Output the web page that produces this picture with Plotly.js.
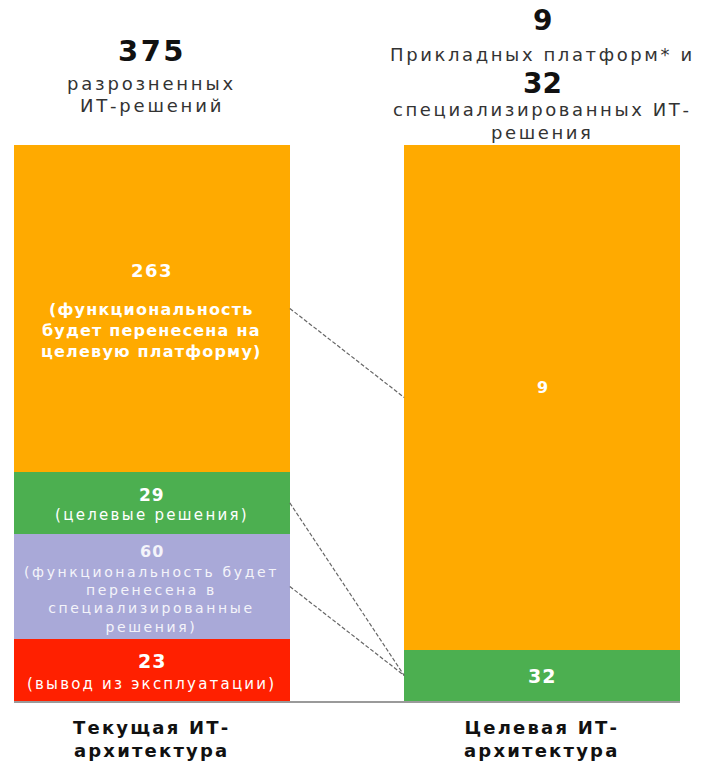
<!DOCTYPE html>
<html>
<head>
<meta charset="utf-8">
<script src="https://cdn.plot.ly/plotly-3.0.1.min.js"></script>
<style>html,body{margin:0;padding:0;background:#fff}#chart{width:708px;height:765px}</style>
</head>
<body>
<div id="chart"></div>
<script>
// ---- data ----
const categories = ['Текущая ИТ-<br>архитектура', 'Целевая ИТ-<br>архитектура'];
const leftLabels = ['23', '60', '29', '263'];
const leftNotes = [
  '(вывод из эксплуатации)',
  '(функциональность будет<br>перенесена в<br>специализированные<br>решения)',
  '(целевые решения)',
  '(функциональность<br>будет перенесена на<br>целевую платформу)'
];
const leftShares = [11.15, 18.9, 11.15, 58.8];   // visual share of bar height, %
const rightLabels = ['32', '9'];
const rightShares = [9.2, 90.8];
const leftHeader = ['375', 'разрозненных', 'ИТ-решений'];
const rightHeader = ['9', 'Прикладных платформ* и', '32', 'специализированных ИТ-', 'решения'];
// connectors: [left segment index, right segment index]
const links = [[3, 1], [2, 0], [1, 0]];

// ---- style ----
const leftColors = ['#FF2000', '#A9A9D8', '#4CAF50', '#FFAA00'];
const rightColors = ['#4CAF50', '#FFAA00'];
const BAR_W = 0.707;
const FONT = 'DejaVu Sans, Liberation Sans, Arial, sans-serif';
const ls = (t, px) => t.split('<br>').map(s => `<span style="letter-spacing:${px}px">${s}</span>`).join('<br>');

const leftNumStyle = [
  {size: 19, shift: 9, sp: 1}, {size: 16, shift: 35, sp: 1, color: '#F4F4FA'},
  {size: 17, shift: 8, sp: 1}, {size: 18, shift: 38, sp: 1.5}
];
const leftNoteStyle = [
  {size: 15, shift: -14, bold: false, sp: 2.2},
  {size: 14, shift: -13, bold: false, sp: 2.6, color: '#F4F4FA'},
  {size: 15, shift: -12, bold: false, sp: 2.3},
  {size: 16, shift: -22, bold: true, sp: 1.2}
];
const rightNumStyle = [{size: 19, shift: -1, sp: 1}, {size: 16, shift: 10, sp: 0}];

// ---- traces ----
const traces = [];
leftShares.forEach((h, i) => traces.push({
  type: 'bar', x: [0], y: [h], width: BAR_W,
  marker: {color: leftColors[i], line: {width: 0}}, hoverinfo: 'skip', showlegend: false
}));
rightShares.forEach((h, i) => traces.push({
  type: 'bar', x: [1], y: [h], width: BAR_W,
  marker: {color: rightColors[i], line: {width: 0}}, hoverinfo: 'skip', showlegend: false
}));

function mids(shares) {
  let c = 0;
  return shares.map(h => { const m = c + h / 2; c += h; return m; });
}
const leftMid = mids(leftShares);
const rightMid = mids(rightShares);

const ann = [];
leftLabels.forEach((t, i) => {
  const s = leftNumStyle[i];
  ann.push({x: 0, y: leftMid[i], xref: 'x', yref: 'y', text: '<b>' + ls(t, s.sp) + '</b>', showarrow: false,
    yshift: s.shift, font: {family: FONT, size: s.size, color: s.color || '#FFFFFF'}});
  const n = leftNoteStyle[i];
  let txt = ls(leftNotes[i], n.sp);
  if (n.bold) txt = '<b>' + txt + '</b>';
  ann.push({x: 0, y: leftMid[i], xref: 'x', yref: 'y', text: txt, showarrow: false,
    yshift: n.shift, font: {family: FONT, size: n.size, color: n.color || '#FFFFFF'}});
});
rightLabels.forEach((t, i) => {
  const s = rightNumStyle[i];
  ann.push({x: 1, y: rightMid[i], xref: 'x', yref: 'y', text: '<b>' + ls(t, s.sp) + '</b>', showarrow: false,
    yshift: s.shift, font: {family: FONT, size: s.size, color: '#FFFFFF'}});
});

// headers (paper y=1 is the plot top)
const leftHeadPos = [51, 83, 105];
const rightHeadPos = [20, 54, 83, 109, 132];
leftHeader.forEach((t, i) => {
  const big = i === 0;
  ann.push({x: 0, xref: 'x', y: 1, yref: 'paper', yanchor: 'middle', yshift: 145 - leftHeadPos[i],
    text: big ? '<b>' + ls(t, 2.5) + '</b>' : ls(t, 2.8), showarrow: false,
    font: {family: FONT, size: big ? 29 : 18, color: big ? '#111111' : '#333333'}});
});
rightHeader.forEach((t, i) => {
  const big = (i === 0 || i === 2);
  ann.push({x: 1, xref: 'x', y: 1, yref: 'paper', yanchor: 'middle', yshift: 145 - rightHeadPos[i],
    text: big ? '<b>' + t + '</b>' : ls(t, 2.6), showarrow: false,
    font: {family: FONT, size: big ? 28 : 18, color: big ? '#111111' : '#333333'}});
});
// category labels under bars
categories.forEach((t, i) => {
  ann.push({x: i, xref: 'x', y: 0, yref: 'paper', yanchor: 'top', yshift: -14,
    text: '<b>' + ls(t, 2.2) + '</b>', showarrow: false,
    font: {family: FONT, size: 18, color: '#111111'}});
});

// dashed connectors between segment midpoints
const shapes = links.map(([li, ri]) => ({
  type: 'line', xref: 'x', yref: 'y',
  x0: BAR_W / 2, y0: leftMid[li], x1: 1 - BAR_W / 2, y1: rightMid[ri],
  line: {color: '#666666', width: 1.2, dash: '4px,2px'}
}));

const layout = {
  width: 708, height: 765,
  margin: {l: 14, r: 28, t: 145, b: 64},
  paper_bgcolor: '#FFFFFF', plot_bgcolor: '#FFFFFF',
  barmode: 'stack',
  xaxis: {range: [-BAR_W / 2, 1 + BAR_W / 2], showticklabels: false, showgrid: false, zeroline: false,
    showline: true, linecolor: '#9A9A9A', linewidth: 2, ticks: '', fixedrange: true},
  yaxis: {range: [0, 100], visible: false, fixedrange: true},
  annotations: ann,
  shapes: shapes
};

Plotly.newPlot('chart', traces, layout, {displayModeBar: false, staticPlot: true});
</script>
</body>
</html>
